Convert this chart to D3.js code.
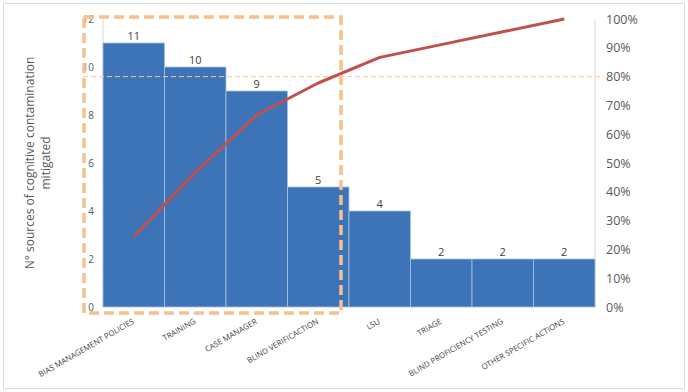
<!DOCTYPE html>
<html><head><meta charset="utf-8">
<script src="https://cdn.jsdelivr.net/npm/d3@7"></script>
<style>body{margin:0;background:#fff}svg{display:block}</style>
</head><body>
<svg id="c" width="688" height="392"></svg>
<script>
const categories = ["BIAS MANAGEMENT POLICIES","TRAINING","CASE MANAGER","BLIND VERIFICACTION","LSU","TRIAGE","BLIND PROFICIENCY TESTING","OTHER SPECIFIC ACTIONS"];
const counts = [11,10,9,5,4,2,2,2];
const leftTicks = [0,2,4,6,8,10,12];
const rightTicks = [0,0.1,0.2,0.3,0.4,0.5,0.6,0.7,0.8,0.9,1.0];
const threshold = 0.8;

const total = d3.sum(counts);
const cumulative = d3.cumsum(counts).map(v => v / total);

const svg = d3.select("#c");
const L = 103, R = 595, T = 19, B = 307;
const font = "'Open Sans', 'Liberation Sans', sans-serif";

svg.append("rect").attr("x",3.5).attr("y",3.5).attr("width",681).attr("height",385)
  .attr("fill","#fff").attr("stroke","#d9d9d9").attr("stroke-width",1);

const x = d3.scaleBand().domain(categories).range([L,R]).padding(0);
const y = d3.scaleLinear().domain([0,12]).range([B,T]);
const yp = d3.scaleLinear().domain([0,1]).range([B,T]);

// axis lines
svg.append("line").attr("x1",L).attr("x2",L).attr("y1",T).attr("y2",B).attr("stroke","#d9d9d9");
svg.append("line").attr("x1",R).attr("x2",R).attr("y1",T).attr("y2",B).attr("stroke","#d9d9d9");

// bars
svg.selectAll("rect.bar").data(counts).join("rect").attr("class","bar")
  .attr("x",(d,i)=>x(categories[i])).attr("width",x.bandwidth())
  .attr("y",d=>y(d)).attr("height",d=>B-y(d))
  .attr("fill","#3c74b7").attr("stroke","#a9c3e3").attr("stroke-width",0.8);

// value labels
svg.selectAll("text.val").data(counts).join("text").attr("class","val")
  .attr("x",(d,i)=>x(categories[i])+x.bandwidth()/2).attr("y",d=>y(d)-3)
  .attr("text-anchor","middle").attr("font-family",font).attr("font-size",11)
  .attr("fill","#404040").text(d=>d);

// left axis
const ya = svg.append("g").attr("transform",`translate(${L},0)`)
  .call(d3.axisLeft(y).tickValues(leftTicks).tickSize(0).tickPadding(9));
ya.select(".domain").remove();
ya.selectAll("text").attr("font-family",font).attr("font-size",10).attr("fill","#595959");

// right axis
const yr = svg.append("g").attr("transform",`translate(${R},0)`)
  .call(d3.axisRight(yp).tickValues(rightTicks).tickSize(0).tickPadding(11).tickFormat(d3.format(".0%")));
yr.select(".domain").remove();
yr.selectAll("text").attr("font-family",font).attr("font-size",12.5).attr("fill","#595959");

// x labels
svg.selectAll("text.cat").data(categories).join("text").attr("class","cat")
  .attr("transform",d=>`translate(${x(d)+x.bandwidth()/2+1},${B+16}) rotate(-30)`)
  .attr("text-anchor","end").attr("font-family",font).attr("font-size",7.9)
  .attr("fill","#404040").text(d=>d);

// y title
const yt = svg.append("text").attr("transform","translate(34,163) rotate(-90)")
  .attr("text-anchor","middle").attr("font-family",font).attr("font-size",12).attr("fill","#595959");
yt.append("tspan").attr("x",0).attr("dy",0).text("N° sources of cognitive contamination");
yt.append("tspan").attr("x",0).attr("dy",16).text("mitigated");

// 80% dashed line
svg.append("line").attr("x1",83).attr("x2",604).attr("y1",yp(threshold)).attr("y2",yp(threshold))
  .attr("stroke","#f7c9a0").attr("stroke-width",1).attr("stroke-dasharray","5,3");

// cumulative line
const line = d3.line().x((d,i)=>x(categories[i])+x.bandwidth()/2).y(d=>yp(d));
svg.append("path").datum(cumulative).attr("d",line).attr("fill","none")
  .attr("stroke","#c0504d").attr("stroke-width",3).attr("stroke-linejoin","round");

// highlight dashed box around first four categories
svg.append("rect").attr("x",84).attr("y",17).attr("width",x(categories[4])-8-84).attr("height",313-17)
  .attr("fill","none").attr("stroke","#f8c08f").attr("stroke-width",3.5).attr("stroke-dasharray","10,5");
</script>
</body></html>
